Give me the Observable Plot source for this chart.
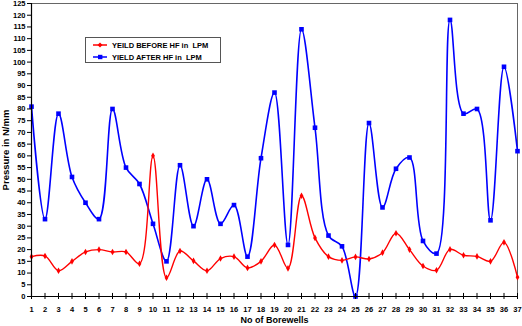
<!DOCTYPE html>
<html>
<head>
<meta charset="utf-8">
<script src="https://cdn.jsdelivr.net/npm/d3@7"></script>
<script src="https://cdn.jsdelivr.net/npm/@observablehq/plot@0.6"></script>
<style>
  html, body { margin: 0; padding: 0; background: #fff; }
  #wrap { position: relative; width: 522px; height: 326px; font-family: "Liberation Sans", Arial, sans-serif; }
  #legend { position: absolute; left: 85px; top: 37px; width: 136px; height: 26px; border: 1px solid #555; background: #fff; box-sizing: border-box; font-size: 7.5px; font-weight: bold; }
  .row { position: absolute; left: 7px; height: 10px; display: flex; align-items: center; white-space: pre; }
  .row svg { margin-right: 5px; }
</style>
</head>
<body>
<div id="wrap"></div>
<script>
const borewells = d3.range(1, 38);
const yieldBefore = [17, 17.3, 11, 15, 19, 20, 19, 19, 14, 60, 8, 19.4, 15.2, 11, 16.2, 17, 12.2, 15, 22, 12, 43, 25, 17, 15.4, 16.9, 16, 18.7, 27, 20, 13, 11.2, 20.1, 17.6, 17.1, 15, 23.1, 8.2];
const yieldAfter = [81, 33, 78, 51, 40, 33, 80, 55, 48, 31, 15, 56, 30, 50, 31, 39, 17, 59, 87, 22, 114, 72, 26, 21.4, 0, 74, 38, 54.5, 59.3, 23.7, 18.3, 118, 78, 80, 32.5, 98, 62];
const seriesNames = ["YEILD BEFORE HF in  LPM", "YIELD AFTER HF in  LPM"];
const seriesColors = ["#ff0000", "#0000ff"];
const xTicks = d3.range(1, 38);
const yTicks = d3.range(0, 126, 5);

const before = borewells.map((b, i) => ({b, v: yieldBefore[i]}));
const after = borewells.map((b, i) => ({b, v: yieldAfter[i]}));

const plot = Plot.plot({
  width: 522,
  height: 326,
  marginLeft: 31,
  marginRight: 5,
  marginTop: 3,
  marginBottom: 30,
  style: {fontFamily: "'Liberation Sans', Arial, sans-serif", background: "#fff", color: "#000"},
  x: {domain: [1, 37]},
  y: {domain: [0, 125]},
  marks: [
    Plot.frame({stroke: "#666", strokeWidth: 1}),
    Plot.line(after, {x: "b", y: "v", stroke: seriesColors[1], strokeWidth: 1.6, curve: "catmull-rom"}),
    Plot.dot(after, {x: "b", y: "v", fill: seriesColors[1], symbol: "square", r: 2.6}),
    Plot.line(before, {x: "b", y: "v", stroke: seriesColors[0], strokeWidth: 1.4, curve: "catmull-rom"}),
    Plot.dot(before, {x: "b", y: "v", fill: seriesColors[0], symbol: "diamond", r: 2.0}),
    Plot.ruleX([1], {stroke: "#000", strokeWidth: 1.2}),
    Plot.ruleY([0], {stroke: "#000", strokeWidth: 1.2}),
    Plot.ruleX(xTicks, {y1: 0, y2: 1.3, stroke: "#000"}),
    Plot.axisX({ticks: xTicks, tickSize: 3, tickPadding: 7, tickFormat: d => d, fontSize: 7.5, fontWeight: "bold", label: null}),
    Plot.axisY({ticks: yTicks, tickSize: 4, tickPadding: 2, fontSize: 7.5, fontWeight: "bold", label: null}),
    Plot.text(["No of Borewells"], {frameAnchor: "bottom", dy: 26, fontSize: 9, fontWeight: "bold", fill: "#000"}),
    Plot.text(["Pressure in N/mm"], {frameAnchor: "left", textAnchor: "middle", dx: -26, dy: 0, rotate: -90, fontSize: 9.5, fontWeight: "bold", fill: "#000"})
  ]
});
const wrap = document.getElementById("wrap");
wrap.appendChild(plot);

const legend = document.createElement("div");
legend.id = "legend";
seriesNames.forEach((name, i) => {
  const row = document.createElement("div");
  row.className = "row";
  row.style.top = (2 + i * 12) + "px";
  const sym = i === 0
    ? `<polygon points="7,0.5 9.5,3 7,5.5 4.5,3" fill="${seriesColors[i]}"/>`
    : `<rect x="5" y="0.8" width="4.4" height="4.4" fill="${seriesColors[i]}"/>`;
  row.innerHTML = `<svg width="14" height="6"><line x1="0" x2="14" y1="3" y2="3" stroke="${seriesColors[i]}" stroke-width="1.5"/>${sym}</svg>`;
  row.appendChild(document.createTextNode(name));
  legend.appendChild(row);
});
wrap.appendChild(legend);
</script>
</body>
</html>
